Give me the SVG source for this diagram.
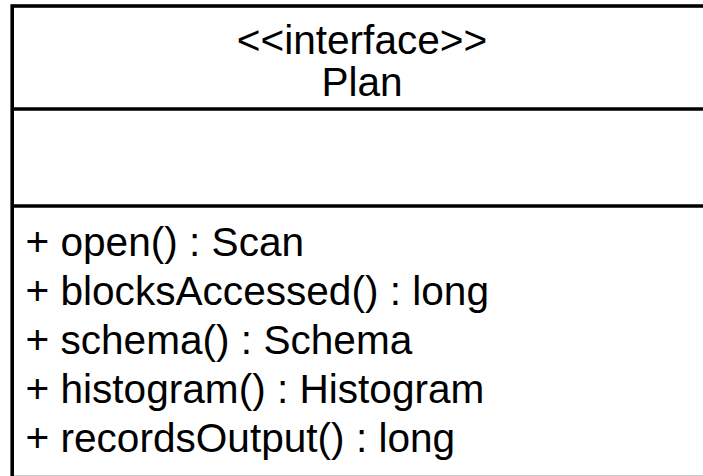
<svg xmlns="http://www.w3.org/2000/svg" width="703" height="476" viewBox="0 0 703 476">
<style>
.t{font-family:"Liberation Sans",Arial,sans-serif;font-size:40.6px;fill:#000}
.b{fill:#fff;stroke:#000;stroke-width:3.6}
.d{stroke:#000;stroke-width:3.6}
</style>
<rect width="703" height="476" fill="#fff"/>
<g id="plan">
<rect class="b" x="12.2" y="6" width="700" height="471.6"/>
<line class="d" x1="12.2" y1="109" x2="712" y2="109"/>
<line class="d" x1="12.2" y1="206" x2="712" y2="206"/>
<text class="t" x="362" y="54" text-anchor="middle">&lt;&lt;interface&gt;&gt;</text>
<text class="t" x="362" y="96" text-anchor="middle">Plan</text>
<text class="t" x="25.5" y="256">+ open() : Scan</text>
<text class="t" x="25.5" y="305">+ blocksAccessed() : long</text>
<text class="t" x="25.5" y="354">+ schema() : Schema</text>
<text class="t" x="25.5" y="403">+ histogram() : Histogram</text>
<text class="t" x="25.5" y="452">+ recordsOutput() : long</text>
</g>
</svg>
